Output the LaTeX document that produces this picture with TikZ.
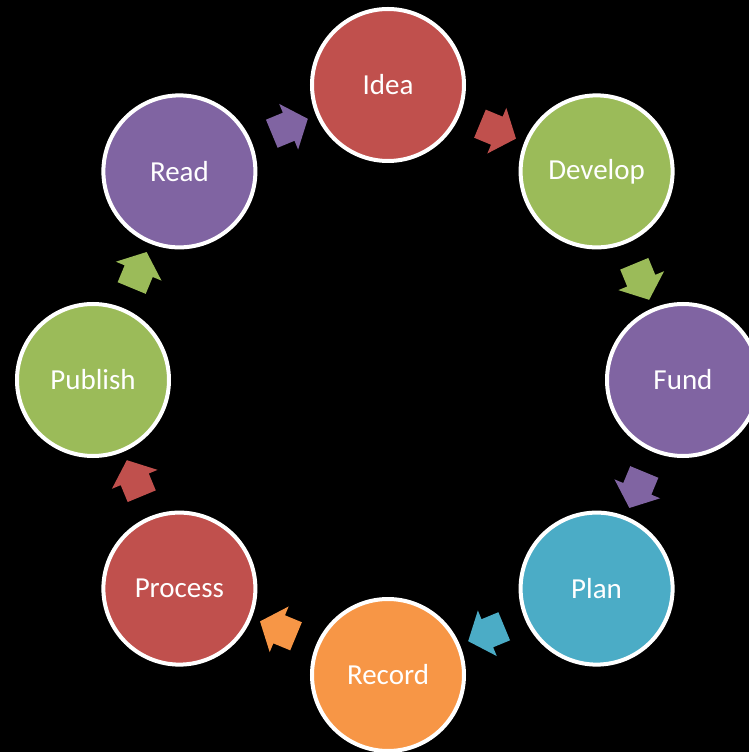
\documentclass[tikz,border=0pt]{standalone}
\usepackage{fontspec}
\setmainfont{Carlito}
\usepackage{tikz}
\usetikzlibrary{shapes.arrows}
\definecolor{cyclered}{HTML}{C0504D}
\definecolor{cyclegreen}{HTML}{9BBB59}
\definecolor{cyclepurple}{HTML}{8064A2}
\definecolor{cycleaqua}{HTML}{4BACC6}
\definecolor{cycleorange}{HTML}{F79646}

\begin{document}
\begin{tikzpicture}[x=1pt,y=1pt]
		\tikzstyle{stage}=[circle,draw=white,line width=4pt,minimum size=152pt,inner sep=0pt,
			text=white,font=\fontsize{29}{35}\selectfont];
		\tikzstyle{turn}=[single arrow,draw=none,minimum height=39pt,minimum width=49pt,
			single arrow head extend=9.5pt,single arrow tip angle=100,
			inner xsep=0pt,inner ysep=15pt];
		\clip(-388,-372)rectangle(361,380);
		\fill[black](-388,-372)rectangle(361,380);
		\node[stage,fill=cyclered](idea)at(90:295){Idea};
		\node[stage,fill=cyclegreen](develop)at(45:295){Develop};
		\node[stage,fill=cyclepurple](fund)at(0:295){Fund};
		\node[stage,fill=cycleaqua](plan)at(-45:295){Plan};
		\node[stage,fill=cycleorange](record)at(-90:295){Record};
		\node[stage,fill=cyclered](process)at(-135:295){Process};
		\node[stage,fill=cyclegreen](publish)at(180:295){Publish};
		\node[stage,fill=cyclepurple](read)at(135:295){Read};

		\foreach \a/\c/\n in {112.5/cyclepurple/toidea,67.5/cyclered/todevelop,
			22.5/cyclegreen/tofund,-22.5/cyclepurple/toplan,-67.5/cycleaqua/torecord,
			-112.5/cycleorange/toprocess,-157.5/cyclered/topublish,157.5/cyclegreen/toread}
			\node[turn,fill=\c,rotate=\a-90](\n)at(\a:272){};
	\end{tikzpicture}
\end{document}
